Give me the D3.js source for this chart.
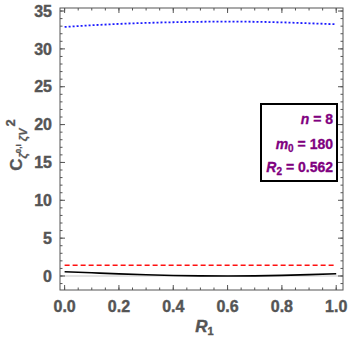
<!DOCTYPE html>
<html>
<head>
<meta charset="utf-8">
<script src="https://cdn.jsdelivr.net/npm/d3@7"></script>
<style>
body { margin: 0; background: #fff; }
svg text { font-family: "Liberation Sans", Arial, sans-serif; }
.tick-label { font-size: 16px; font-weight: bold; fill: #555; stroke: #555; stroke-width: 0.4; }
.legend { font-size: 14px; font-weight: bold; fill: #800080; stroke: #800080; stroke-width: 0.3; }
</style>
</head>
<body>
<svg width="350" height="344"></svg>
<script>
const r1 = [0, 0.1, 0.2, 0.3, 0.4, 0.5, 0.6, 0.7, 0.8, 0.9, 1.0];
const blueVals = [32.9, 33.12, 33.3, 33.43, 33.52, 33.58, 33.6, 33.58, 33.5, 33.38, 33.25];
const redVals = [1.41, 1.41, 1.41, 1.41, 1.41, 1.41, 1.41, 1.41, 1.41, 1.41, 1.41];
const blackVals = [0.57, 0.42, 0.28, 0.16, 0.07, 0.02, 0.0, 0.02, 0.08, 0.18, 0.3];
const xTicks = [0, 0.2, 0.4, 0.6, 0.8, 1.0];
const yTicks = [0, 5, 10, 15, 20, 25, 30, 35];

const svg = d3.select('svg');
const margin = {top: 8, right: 7, bottom: 54, left: 60};
const width = +svg.attr('width');
const height = +svg.attr('height');
const innerWidth = width - margin.left - margin.right;
const innerHeight = height - margin.top - margin.bottom;

const xScale = d3.scaleLinear().domain([-0.017, 1.025]).range([0, innerWidth]);
const yScale = d3.scaleLinear().domain([-1.85, 35.4]).range([innerHeight, 0]);

const g = svg.append('g')
	.attr('transform', `translate(${margin.left}, ${margin.top})`);

// zero line
g.append('line')
	.attr('x1', 0).attr('x2', innerWidth)
	.attr('y1', yScale(0)).attr('y2', yScale(0))
	.attr('stroke', '#c8c8c8').attr('stroke-width', 1);

// frame ticks
const xMinor = d3.range(0, 1.0001, 0.05);
const yMinor = d3.range(-1, 35.001, 1);
const tickColor = '#555';

const addTicks = (vals, scale, len, axis) => {
	vals.forEach(v => {
		const p = scale(v);
		if (axis === 'x') {
			g.append('line').attr('x1', p).attr('x2', p).attr('y1', innerHeight).attr('y2', innerHeight - len).attr('stroke', tickColor);
			g.append('line').attr('x1', p).attr('x2', p).attr('y1', 0).attr('y2', len).attr('stroke', tickColor);
		} else {
			g.append('line').attr('y1', p).attr('y2', p).attr('x1', 0).attr('x2', len).attr('stroke', tickColor);
			g.append('line').attr('y1', p).attr('y2', p).attr('x1', innerWidth).attr('x2', innerWidth - len).attr('stroke', tickColor);
		}
	});
};
addTicks(xMinor, xScale, 2.5, 'x');
addTicks(xTicks, xScale, 5, 'x');
addTicks(yMinor, yScale, 2.5, 'y');
addTicks(yTicks, yScale, 5, 'y');

g.append('rect')
	.attr('width', innerWidth).attr('height', innerHeight)
	.attr('fill', 'none').attr('stroke', tickColor).attr('stroke-width', 1);

// tick labels
g.selectAll('.xlab').data(xTicks).enter().append('text')
	.attr('class', 'tick-label')
	.attr('x', d => xScale(d))
	.attr('y', innerHeight + 22)
	.attr('text-anchor', 'middle')
	.text(d3.format('.1f'));

g.selectAll('.ylab').data(yTicks).enter().append('text')
	.attr('class', 'tick-label')
	.attr('x', -8)
	.attr('y', d => yScale(d))
	.attr('dy', '0.36em')
	.attr('text-anchor', 'end')
	.text(d => d);

// curves
const line = vals => d3.line()
	.x((d, i) => xScale(r1[i]))
	.y(d => yScale(d))
	.curve(d3.curveMonotoneX)(vals);

g.append('path').attr('d', line(blueVals))
	.attr('fill', 'none').attr('stroke', '#1a1aff').attr('stroke-width', 1.8)
	.attr('stroke-dasharray', '2,2');
g.append('path').attr('d', line(redVals))
	.attr('fill', 'none').attr('stroke', '#ff1010').attr('stroke-width', 1.5)
	.attr('stroke-dasharray', '5,3');
g.append('path').attr('d', line(blackVals))
	.attr('fill', 'none').attr('stroke', '#000').attr('stroke-width', 1.6);

// legend box
const lg = svg.append('g');
lg.append('rect')
	.attr('x', 261).attr('y', 104).attr('width', 76).attr('height', 77)
	.attr('fill', '#fff').attr('stroke', '#000').attr('stroke-width', 2);
const legendLines = [
	{y: 124, parts: [['n', 'italic'], [' = 8', 'normal']]},
	{y: 149, parts: [['m', 'italic'], ['0', 'sub'], [' = 180', 'normal']]},
	{y: 172, parts: [['R', 'italic'], ['2', 'sub'], [' = 0.562', 'normal']]}
];
legendLines.forEach(l => {
	const t = lg.append('text').attr('class', 'legend')
		.attr('x', 333).attr('y', l.y).attr('text-anchor', 'end');
	let sub = false;
	l.parts.forEach(([s, kind]) => {
		const ts = t.append('tspan').text(s);
		if (kind === 'italic') ts.attr('font-style', 'italic');
		if (kind === 'sub') { ts.attr('font-size', '10px').attr('dy', 3); sub = true; }
		else if (sub) { ts.attr('dy', -3); sub = false; }
	});
});

// axis labels
svg.append('text')
	.attr('x', margin.left + innerWidth / 2 + 3)
	.attr('y', 332)
	.attr('text-anchor', 'middle')
	.attr('font-size', 17).attr('font-weight', 'bold').attr('fill', '#555')
	.attr('stroke', '#555').attr('stroke-width', 0.4)
	.call(t => {
		t.append('tspan').attr('font-style', 'italic').text('R');
		t.append('tspan').attr('font-size', 11).attr('dy', 3).text('1');
	});

const yl = svg.append('text')
	.attr('transform', 'translate(22, 145) rotate(-90)')
	.attr('text-anchor', 'middle')
	.attr('font-weight', 'bold').attr('fill', '#555').attr('font-size', 17)
	.attr('stroke', '#555').attr('stroke-width', 0.3);
yl.append('tspan').text('C');
yl.append('tspan').attr('font-size', 11).attr('dy', 5).attr('font-style', 'italic').text('ζ');
yl.append('tspan').attr('font-size', 8).attr('dy', -6).text('0,i');
yl.append('tspan').attr('font-size', 11).attr('dy', 6).attr('font-style', 'italic').text(' ζV');
yl.append('tspan').attr('font-size', 13).attr('dy', -12).attr('dx', 2).text('2');
</script>
</body>
</html>
